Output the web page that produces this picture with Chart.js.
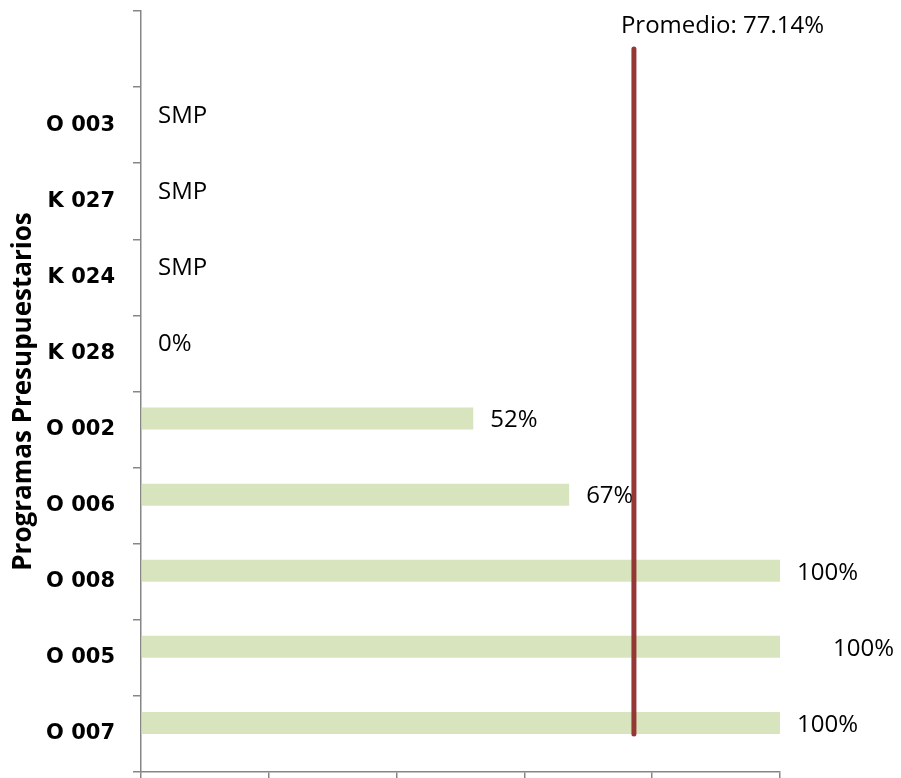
<!DOCTYPE html>
<html lang="es">
  <head>
    <meta charset="UTF-8" />
    <title>Programas Presupuestarios</title>
    <script src="https://cdn.jsdelivr.net/npm/chart.js"></script>
    <style>
      html, body {
        margin: 0;
        padding: 0;
        background: #fff;
      }
      .chart-container {
        width: 901px;
        height: 778px;
      }
    </style>
  </head>
  <body>
    <div class="chart-container">
      <canvas id="myChart"></canvas>
    </div>

    <script>
      // datos
      const programas = ["", "O 003", "K 027", "K 024", "K 028", "O 002", "O 006", "O 008", "O 005", "O 007"];
      const avance = [null, null, null, null, 0, 52, 67, 100, 100, 100];
      const etiquetas = ["", "SMP", "SMP", "SMP", "0%", "52%", "67%", "100%", "100%", "100%"];
      const ticksX = [0, 20, 40, 60, 80, 100];
      const promedio = 77.14;

      const GRIS = "#868686";
      const VERDE = "#d7e4bd";
      const ROJO = "#953735";

      // etiquetas de valor + linea del promedio
      const extras = {
        id: "extras",
        afterDatasetsDraw(chart, args, opts) {
          const ctx = chart.ctx;
          const x = chart.scales.x;
          const y = chart.scales.y;
          const meta = chart.getDatasetMeta(0);

          ctx.save();
          ctx.font = "24px 'Open Sans'";
          ctx.fillStyle = "#000";
          ctx.textBaseline = "middle";
          ctx.textAlign = "left";
          etiquetas.forEach((txt, i) => {
            if (!txt) return;
            const bar = meta.data[i];
            const yc = bar && isFinite(bar.y) ? bar.y : y.getPixelForValue(i);
            const xv = x.getPixelForValue(avance[i] || 0);
            ctx.fillText(txt, xv + 17 + (opts.nudge[i] || 0), yc + 2);
          });

          // linea vertical del promedio
          const xp = x.getPixelForValue(promedio);
          ctx.strokeStyle = ROJO;
          ctx.lineWidth = 5;
          ctx.lineCap = "round";
          ctx.beginPath();
          ctx.moveTo(xp, y.getPixelForValue(0));
          ctx.lineTo(xp, meta.data[programas.length - 1].y + 11);
          ctx.stroke();

          ctx.fillText("Promedio: " + promedio.toFixed(2) + "%", xp - 13, 26);
          ctx.restore();
        },
      };

      new Chart(document.getElementById("myChart"), {
        type: "bar",
        data: {
          labels: programas,
          datasets: [
            {
              label: "Avance",
              data: avance,
              backgroundColor: VERDE,
              borderWidth: 0,
            },
            {
              label: "",
              data: avance.map(() => null),
              backgroundColor: "transparent",
            },
          ],
        },
        options: {
          indexAxis: "y",
          responsive: true,
          maintainAspectRatio: false,
          animation: false,
          categoryPercentage: 0.578,
          barPercentage: 1,
          layout: { padding: { left: 0, top: 11, right: 121, bottom: 0 } },
          plugins: {
            legend: { display: false },
            tooltip: { enabled: false },
            extras: { nudge: { 8: 36 } },
          },
          scales: {
            x: {
              min: 0,
              max: 100,
              afterBuildTicks: (s) => {
                s.ticks = ticksX.map((v) => ({ value: v }));
              },
              afterFit: (s) => {
                s.height = 6;
                s.paddingLeft = 0;
                s.paddingRight = 0;
              },
              ticks: { display: false },
              grid: {
                drawOnChartArea: false,
                tickLength: 6,
                color: GRIS,
                lineWidth: 1.5,
              },
              border: { color: GRIS, width: 1.5 },
            },
            y: {
              afterFit: (s) => {
                s.width = 141;
                s.paddingTop = 0;
                s.paddingBottom = 0;
              },
              ticks: {
                autoSkip: false,
                padding: 18,
                color: "#000",
                font: { family: "'DejaVu Sans'", size: 21, weight: "bold" },
              },
              grid: {
                drawOnChartArea: false,
                offset: true,
                tickLength: 8,
                color: GRIS,
                lineWidth: 1.5,
              },
              border: { color: GRIS, width: 1.5 },
              title: {
                display: true,
                text: "Programas Presupuestarios",
                color: "#000",
                padding: { top: 8, bottom: 0 },
                font: { family: "'Open Sans'", size: 26, weight: "bold" },
              },
            },
          },
        },
        plugins: [extras],
      });
    </script>
  </body>
</html>
